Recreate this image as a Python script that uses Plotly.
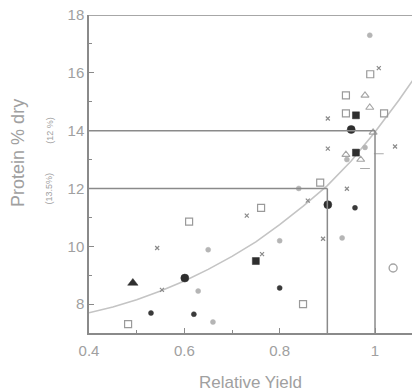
import plotly.graph_objects as go

# Fitted curve
curve_x = [0.40, 0.45, 0.50, 0.55, 0.60, 0.65, 0.70, 0.75, 0.80, 0.85, 0.90, 0.95, 1.00, 1.05, 1.09]
curve_y = [7.70, 7.90, 8.15, 8.45, 8.80, 9.20, 9.65, 10.15, 10.75, 11.40, 12.10, 12.95, 13.95, 15.05, 16.0]

# Reference lines
ref_x = [0.9, 1.0]
ref_y = [12, 14]

# Scatter groups
big_dark_x = [0.601, 0.901, 0.95]
big_dark_y = [8.90, 11.44, 14.04]
dark_sq_x = [0.96, 0.96, 0.75]
dark_sq_y = [14.53, 13.24, 9.49]
dark_tri_x = [0.492]
dark_tri_y = [8.73]
dark_dot_x = [0.958, 0.80, 0.53, 0.62]
dark_dot_y = [11.33, 8.56, 7.69, 7.65]
open_sq_x = [0.99, 0.939, 0.939, 1.019, 0.885, 0.761, 0.61, 0.849, 0.482]
open_sq_y = [15.95, 15.22, 14.60, 14.60, 12.20, 11.33, 10.85, 8.00, 7.31]
open_tri_x = [0.979, 0.989, 0.996, 0.939, 0.97]
open_tri_y = [15.22, 14.80, 13.94, 13.17, 13.00]
gray_dot_x = [0.989, 0.84, 0.65, 0.80, 0.931, 0.629, 0.66, 0.941, 0.979]
gray_dot_y = [17.30, 12.00, 9.88, 10.19, 10.29, 8.45, 7.38, 13.00, 13.42]
open_circ_x = [1.038]
open_circ_y = [9.25]
cross_x = [1.008, 0.901, 0.901, 1.042, 0.941, 0.859, 0.731, 0.543, 0.891, 0.763, 0.553]
cross_y = [16.16, 14.42, 13.38, 13.45, 11.99, 11.58, 11.06, 9.94, 10.26, 9.73, 8.49]
dash_x = [1.008, 0.979]
dash_y = [13.20, 12.69]

x_ticks = [0.4, 0.6, 0.8, 1.0]
x_ticklabels = ["0.4", "0.6", "0.8", "1"]
y_ticks = [8, 10, 12, 14, 16, 18]

XMIN, XMAX, YMIN, YMAX = 0.4, 1.0776, 7, 18
LINE = "#8a8a8a"
TXT = "#a0a0a0"
FONT = "Liberation Sans"

fig = go.Figure()

fig.add_trace(go.Scatter(x=curve_x, y=curve_y, mode="lines",
                         line=dict(color="#c4c4c4", width=1.6), hoverinfo="skip"))

def add(xs, ys, symbol, size, color, lw=1.0, lc=None):
    fig.add_trace(go.Scatter(x=xs, y=ys, mode="markers",
                             marker=dict(symbol=symbol, size=size, color=color,
                                         line=dict(width=lw, color=lc or color))))

add(open_sq_x, open_sq_y, "square-open", 7, "#9a9a9a", 1.2)
add(open_tri_x, open_tri_y, "triangle-up-open", 7, "#a5a5a5", 1.1)
add(gray_dot_x, gray_dot_y, "circle", 5, "#b5b5b5", 0.5)
add(open_circ_x, open_circ_y, "circle-open", 8, "#a5a5a5", 1.4)
add(cross_x, cross_y, "x-thin", 4, "#8a8a8a", 1.2)
add(dash_x, dash_y, "line-ew", 7, "#aaaaaa", 1.0)
add(dark_dot_x, dark_dot_y, "circle", 5, "#3a3a3a", 0.5)
add(big_dark_x, big_dark_y, "circle", 8, "#2e2e2e", 0.5)
add(dark_sq_x, dark_sq_y, "square", 7, "#2e2e2e", 0.5)
add(dark_tri_x, dark_tri_y, "triangle-up", 9, "#2e2e2e", 0.5)

# reference lines
line_style = dict(color=LINE, width=1.5)
fig.add_shape(type="line", x0=XMIN, x1=ref_x[0], y0=ref_y[0], y1=ref_y[0], line=line_style)
fig.add_shape(type="line", x0=XMIN, x1=ref_x[1], y0=ref_y[1], y1=ref_y[1], line=line_style)
fig.add_shape(type="line", x0=ref_x[0], x1=ref_x[0], y0=YMIN, y1=ref_y[0], line=line_style)
fig.add_shape(type="line", x0=ref_x[1], x1=ref_x[1], y0=YMIN, y1=ref_y[1], line=line_style)
# top frame
fig.add_shape(type="line", x0=XMIN, x1=XMAX, y0=YMAX, y1=YMAX, line=line_style)

fig.update_layout(
    width=412, height=392,
    margin=dict(l=89, r=0, t=15, b=59),
    paper_bgcolor="white", plot_bgcolor="white",
    showlegend=False,
    font=dict(family=FONT, color=TXT, size=15),
    xaxis=dict(range=[XMIN, XMAX], tickvals=x_ticks, ticktext=x_ticklabels,
               showgrid=False, zeroline=False, showline=True, linecolor=LINE, linewidth=1.5,
               ticks="inside", ticklen=5, tickcolor=LINE, ticklabelstandoff=3,
               minor=dict(dtick=0.1, tick0=0.4, ticks="inside", ticklen=3, tickcolor=LINE),
               tickfont=dict(size=15, color=TXT),
               title=dict(text="Relative Yield", font=dict(size=17, color=TXT), standoff=18)),
    yaxis=dict(range=[YMIN, YMAX], tickvals=y_ticks,
               showgrid=False, zeroline=False, showline=True, linecolor=LINE, linewidth=1.5,
               ticks="inside", ticklen=5, tickcolor=LINE,
               minor=dict(dtick=1, tick0=7, ticks="inside", ticklen=3, tickcolor=LINE),
               tickfont=dict(size=15, color=TXT)),
)

fig.add_annotation(text="Protein % dry", xref="paper", yref="paper",
                   x=-0.218, y=0.565, showarrow=False, textangle=-90,
                   font=dict(size=18, color=TXT), xanchor="center", yanchor="middle")
fig.add_annotation(text="(12 %)", xref="paper", yref="y", x=-0.145, y=14,
                   showarrow=False, textangle=-90, font=dict(size=9, color=TXT))
fig.add_annotation(text="(13.5%)", xref="paper", yref="y", x=-0.145, y=12,
                   showarrow=False, textangle=-90, font=dict(size=9, color=TXT))

fig.write_html("out.html", config={"displayModeBar": False},
               post_script="document.body.style.margin='0';document.body.style.overflow='hidden';")
